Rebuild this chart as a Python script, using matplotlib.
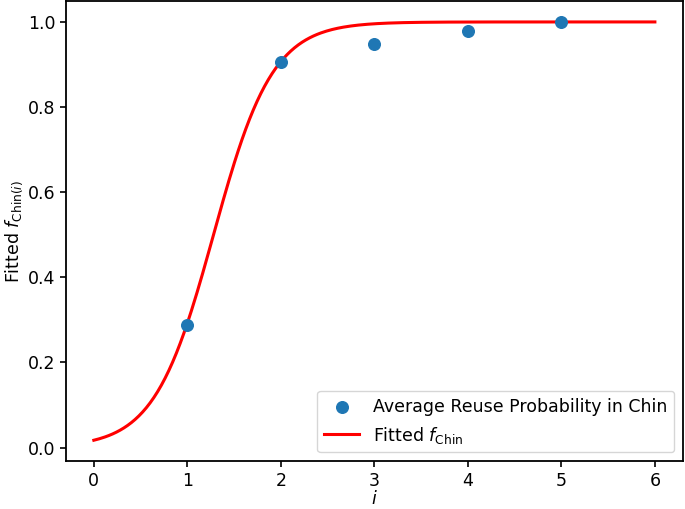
import numpy as np
import matplotlib
matplotlib.use('Agg')
import matplotlib.pyplot as plt

# observed average reuse probability per i
i_values = [1, 2, 3, 4, 5]
reuse_prob = [0.289, 0.907, 0.948, 0.979, 1.0]

# fitted logistic parameters
k_fit = 3.16
x0_fit = 1.28
x_min, x_max = 0, 6

plt.rcParams['font.size'] = 12.5
plt.rcParams['axes.linewidth'] = 1.3
plt.rcParams['xtick.major.width'] = 1.2
plt.rcParams['ytick.major.width'] = 1.2
plt.rcParams['xtick.major.size'] = 4
plt.rcParams['ytick.major.size'] = 4

fig = plt.figure(figsize=(6.85, 5.09), dpi=100)
ax = fig.add_axes([0.096, 0.094, 0.901, 0.904])

x_curve = np.linspace(x_min, x_max, 300)
y_curve = 1.0 / (1.0 + np.exp(-k_fit * (x_curve - x0_fit)))

ax.scatter(i_values, reuse_prob, s=70, color='#1f77b4', zorder=3,
           label='Average Reuse Probability in Chin')
ax.plot(x_curve, y_curve, color='red', linewidth=2.2, label=r'Fitted $f_{\mathrm{Chin}}$')

ax.set_xlabel(r'$i$', labelpad=0)
ax.set_ylabel(r'Fitted $f_{\mathrm{Chin}(i)}$', labelpad=2)
ax.legend(loc='lower right')

fig.savefig('out.png', dpi=100)
